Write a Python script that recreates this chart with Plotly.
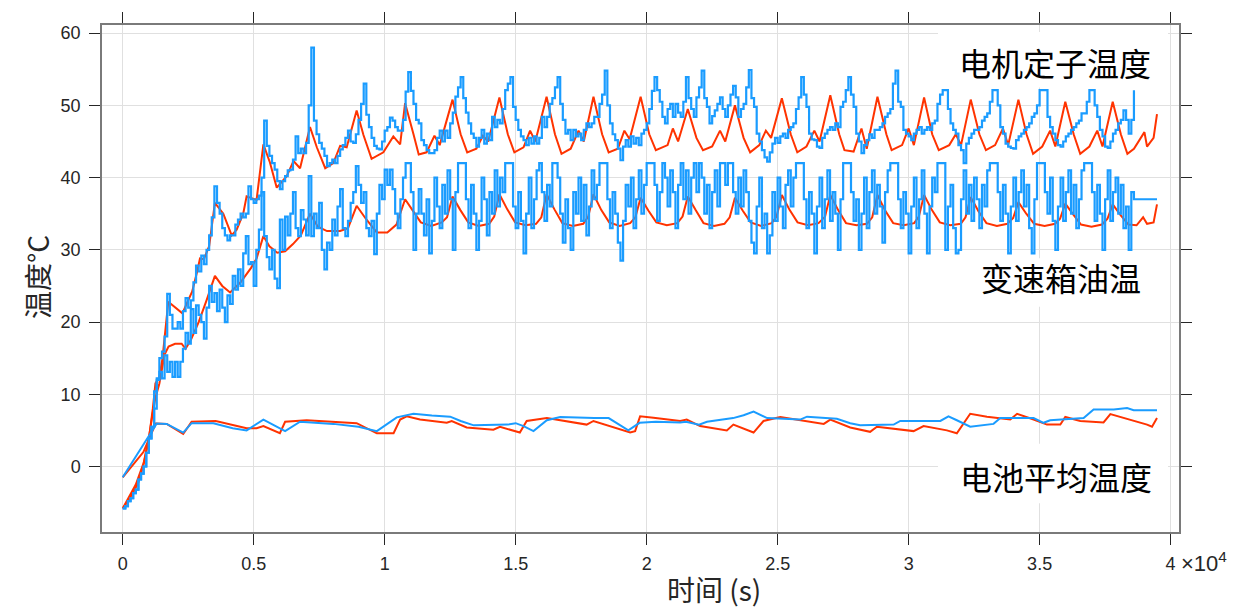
import numpy as np
import plotly.graph_objects as go

# ---------------- data (time in units of 1e4 s, temperature in degC) ----------------
# Battery average temperature
BAT_RED_T = [0.000, 0.079, 0.126, 0.168, 0.231, 0.263, 0.355, 0.473, 0.511, 0.537, 0.600, 0.620, 0.702,
             0.893, 0.970, 1.034, 1.059, 1.084, 1.135, 1.237, 1.256, 1.313, 1.415, 1.440, 1.516, 1.542,
             1.619, 1.771, 1.797, 1.937, 1.956, 1.975, 2.026, 2.128, 2.153, 2.204, 2.306, 2.331, 2.408,
             2.446, 2.510, 2.574, 2.676, 2.701, 2.777, 2.853, 2.879, 3.019, 3.057, 3.146, 3.184, 3.235,
             3.299, 3.388, 3.414, 3.477, 3.528, 3.579, 3.598, 3.655, 3.744, 3.770, 3.846, 3.910, 3.929, 3.948]
BAT_RED_V = [-1.5, 2.0, 5.95, 5.9, 4.5, 6.2, 6.3, 5.3, 5.3, 5.6, 4.6, 6.2, 6.4,
             6.0, 4.6, 4.6, 6.5, 6.95, 6.5, 6.05, 6.3, 5.4, 5.1, 5.5, 4.7, 6.3,
             6.7, 5.8, 6.3, 4.7, 4.9, 6.95, 6.75, 6.3, 6.5, 5.6, 5.0, 5.8, 4.7,
             6.3, 6.85, 6.5, 5.9, 6.5, 5.4, 4.8, 5.5, 4.9, 5.6, 5.0, 4.6, 7.3,
             6.9, 6.5, 7.3, 6.5, 5.8, 5.8, 6.85, 6.3, 6.1, 7.25, 6.5, 5.8, 5.5, 6.7]

BAT_BLUE_T = [0.000, 0.130, 0.168, 0.231, 0.263, 0.346, 0.420, 0.473, 0.537, 0.620, 0.677, 0.740, 0.804,
              0.900, 0.970, 1.046, 1.110, 1.180, 1.250, 1.290, 1.340, 1.470, 1.500, 1.530, 1.568, 1.619,
              1.670, 1.800, 1.855, 1.930, 1.973, 2.035, 2.128, 2.150, 2.200, 2.230, 2.330, 2.370, 2.408,
              2.460, 2.586, 2.612, 2.726, 2.777, 2.815, 2.943, 2.968, 3.121, 3.152, 3.184, 3.235, 3.324,
              3.350, 3.477, 3.515, 3.540, 3.668, 3.706, 3.783, 3.834, 3.859, 3.948]
BAT_BLUE_V = [-1.5, 5.95, 5.9, 4.7, 6.0, 6.0, 5.3, 5.0, 6.5, 4.9, 6.2, 6.1, 5.9,
              5.5, 4.9, 6.8, 7.3, 7.05, 6.9, 6.3, 5.7, 5.8, 6.0, 5.6, 4.9, 6.4,
              6.85, 6.7, 6.7, 5.0, 6.05, 6.2, 6.1, 6.2, 5.8, 6.2, 6.7, 7.1, 7.6,
              6.7, 6.5, 6.9, 6.6, 6.0, 5.7, 5.8, 6.3, 6.3, 6.95, 6.4, 5.5, 5.9,
              6.7, 6.7, 6.05, 6.4, 6.7, 7.9, 7.9, 8.1, 7.8, 7.8]

# Motor stator temperature (red, smooth)
STATOR_RED_T = [0.000, 0.020, 0.040, 0.060, 0.080, 0.100, 0.115, 0.125, 0.140, 0.152, 0.174, 0.200, 0.228,
                0.245, 0.265, 0.285, 0.295, 0.310, 0.330, 0.352, 0.384, 0.416, 0.435, 0.460, 0.473, 0.511,
                0.537, 0.562, 0.588, 0.626, 0.652, 0.677, 0.715, 0.741, 0.773, 0.804, 0.830, 0.855, 0.893,
                0.919, 0.950, 0.995, 1.033, 1.059, 1.078,
                1.110, 1.130, 1.160, 1.190, 1.210, 1.259, 1.290, 1.315, 1.350, 1.375, 1.395, 1.438,
                1.470, 1.495, 1.530, 1.555, 1.575, 1.618, 1.650, 1.675, 1.710, 1.740, 1.760, 1.797,
                1.830, 1.855, 1.890, 1.915, 1.935, 1.977, 2.010, 2.035, 2.080, 2.100, 2.120, 2.157,
                2.190, 2.215, 2.250, 2.280, 2.300, 2.337, 2.370, 2.395, 2.430, 2.455, 2.475, 2.516,
                2.550, 2.575, 2.610, 2.640, 2.660, 2.701, 2.735, 2.755, 2.790, 2.820, 2.840, 2.881,
                2.915, 2.935, 2.975, 3.000, 3.020, 3.059, 3.090, 3.115, 3.155, 3.180, 3.200, 3.237,
                3.270, 3.295, 3.330, 3.360, 3.380, 3.419, 3.450, 3.475, 3.510, 3.540, 3.560, 3.598,
                3.630, 3.655, 3.690, 3.720, 3.740, 3.779, 3.810, 3.835, 3.860, 3.900, 3.910, 3.935, 3.948]
STATOR_RED_V = [-5.8, -4.8, -3.6, -2.2, 0.3, 3.8, 8.0, 11.5, 12.4, 15.0, 22.8, 22.0, 21.2,
                22.6, 24.2, 27.1, 28.8, 28.7, 30.5, 36.5, 35.0, 32.0, 32.8, 35.0, 37.4, 36.9,
                44.6, 42.1, 38.6, 40.2, 42.3, 41.3, 47.0, 44.2, 41.3, 42.0, 44.4, 44.2, 49.3,
                45.9, 42.6, 43.5, 45.7, 44.6, 50.3,
                46.0, 43.2, 43.5, 45.8, 44.5, 50.8, 46.0, 43.5, 44.0, 45.8, 45.0, 51.1,
                46.0, 43.5, 44.2, 46.5, 45.0, 51.2, 46.0, 43.3, 44.0, 46.5, 45.0, 51.2,
                46.0, 43.5, 44.0, 46.5, 45.3, 51.2, 46.0, 43.8, 44.5, 46.8, 45.0, 49.5,
                45.5, 43.8, 44.3, 46.5, 45.0, 50.0, 45.5, 43.5, 44.5, 46.5, 45.5, 51.0,
                46.0, 43.5, 44.3, 46.5, 45.0, 51.4, 46.0, 43.8, 43.6, 46.8, 44.0, 51.2,
                46.0, 43.8, 44.5, 46.8, 44.5, 51.1, 46.0, 43.8, 44.5, 46.0, 44.5, 50.8,
                46.0, 43.8, 44.5, 46.8, 44.5, 50.8, 46.0, 43.3, 44.3, 46.5, 44.3, 50.5,
                46.0, 43.3, 44.3, 46.5, 44.3, 50.5, 46.0, 43.3, 44.0, 46.3, 44.3, 45.5, 48.8]

# Gearbox oil temperature (red, smooth)
GEAR_RED_T = [0.000, 0.050, 0.080, 0.100, 0.115, 0.125, 0.140, 0.160, 0.175, 0.200, 0.225, 0.240, 0.260,
              0.290, 0.320, 0.352, 0.380, 0.410, 0.450, 0.490, 0.511, 0.537, 0.560, 0.590, 0.620, 0.650,
              0.680, 0.715, 0.745, 0.780, 0.830, 0.860, 0.893, 0.930, 0.970, 1.010, 1.045, 1.078,
              1.108, 1.138, 1.178, 1.218, 1.238, 1.259, 1.289, 1.319, 1.359, 1.399, 1.418, 1.438,
              1.468, 1.498, 1.538, 1.578, 1.598, 1.618, 1.648, 1.678, 1.718, 1.758, 1.777, 1.797,
              1.827, 1.857, 1.897, 1.937, 1.957, 1.977, 2.007, 2.037, 2.077, 2.117, 2.137, 2.157,
              2.187, 2.217, 2.257, 2.297, 2.317, 2.337, 2.367, 2.397, 2.437, 2.477, 2.496, 2.516,
              2.546, 2.576, 2.616, 2.656, 2.681, 2.701, 2.731, 2.761, 2.801, 2.841, 2.861, 2.881,
              2.911, 2.941, 2.981, 3.021, 3.039, 3.059, 3.089, 3.119, 3.159, 3.199, 3.217, 3.237,
              3.267, 3.297, 3.337, 3.377, 3.399, 3.419, 3.449, 3.479, 3.519, 3.559, 3.578, 3.598,
              3.628, 3.658, 3.698, 3.738, 3.759, 3.779, 3.809, 3.839, 3.870, 3.895, 3.910, 3.935, 3.948]
GEAR_RED_V = [-5.8, -2.5, 0.5, 4.0, 7.5, 9.5, 11.5, 15.5, 16.6, 17.0, 17.0, 16.3, 17.5,
              20.0, 23.0, 26.4, 25.0, 24.1, 25.5, 27.5, 28.8, 31.9, 30.5, 29.6, 29.8, 30.8,
              32.0, 35.0, 33.2, 32.6, 32.6, 33.0, 36.1, 34.2, 32.4, 32.4, 33.5, 37.0,
              35.4, 33.8, 33.3, 33.8, 34.5, 37.4, 35.5, 33.8, 33.3, 33.6, 34.6, 37.7,
              35.6, 33.8, 33.4, 33.6, 34.5, 37.7, 35.6, 33.7, 33.3, 33.6, 34.6, 37.7,
              35.5, 33.8, 33.3, 33.7, 34.5, 37.2, 35.4, 33.8, 33.4, 33.7, 34.6, 37.4,
              35.5, 33.7, 33.3, 33.6, 34.5, 37.2, 35.4, 33.8, 33.3, 33.7, 34.6, 37.6,
              35.5, 33.8, 33.4, 33.7, 34.6, 37.6, 35.5, 33.7, 33.4, 33.6, 34.5, 37.6,
              35.4, 33.7, 33.4, 33.7, 34.6, 37.6, 35.5, 33.8, 33.4, 33.6, 34.5, 37.3,
              35.3, 33.7, 33.3, 33.6, 34.4, 36.6, 35.0, 33.6, 33.3, 33.6, 34.3, 36.4,
              34.9, 33.5, 33.2, 33.5, 34.3, 36.3, 34.8, 33.5, 33.4, 34.5, 33.6, 33.8, 36.3]

# Logged (blue) signals, one sample every 0.01 x 1e4 s = 100 s
SAMPLE_STEP = 0.01
STATOR_BLUE = [
    -5.8, -5.5, -4.8, -4.4, -3.7, -3.2, -1.8, -1.0, 0.0, 1.9,
    3.9, 5.5, 10.4, 12.2, 15.0, 15.9, 18.0, 23.9, 21.0, 19.1,
    19.1, 20.0, 19.1, 21.5, 23.3, 22.0, 23.0, 25.5, 27.8, 27.0,
    29.2, 28.0, 30.0, 32.0, 34.5, 38.8, 36.5, 35.0, 33.0, 32.0,
    31.3, 32.0, 32.0, 33.5, 34.2, 35.0, 34.5, 35.0, 38.8, 37.0,
    36.5, 37.0, 37.5, 40.0, 47.9, 44.4, 43.0, 42.0, 41.1, 39.5,
    38.4, 39.5, 40.2, 41.0, 41.1, 42.5, 45.7, 43.4, 44.0, 43.4,
    44.8, 50.0, 58.0, 47.9, 46.0, 44.8, 44.0, 43.0, 41.6, 42.0,
    42.5, 42.0, 43.0, 43.9, 44.5, 45.5, 46.5, 45.0, 44.8, 46.0,
    48.0, 50.2, 53.0, 48.7, 47.0, 45.5, 44.4, 44.0, 43.9, 45.0,
    46.5, 47.0, 48.3, 47.9, 47.0, 46.5, 46.5, 48.0, 51.9, 54.6,
    52.0, 50.2, 48.0, 47.5, 45.2, 44.5, 43.8, 43.4, 43.4, 43.8,
    45.5, 46.5, 45.0, 46.5, 45.5, 47.5, 49.0, 51.2, 52.5, 53.9,
    51.0, 49.0, 47.5, 46.1, 45.5, 44.3, 45.5, 46.6, 44.7, 46.1,
    45.2, 48.4, 47.0, 48.0, 47.5, 49.5, 52.1, 53.0, 53.9, 49.8,
    48.0, 46.6, 45.7, 45.2, 44.5, 45.5, 44.7, 45.7, 44.7, 45.5,
    48.4, 47.0, 48.4, 50.2, 51.0, 52.5, 53.9, 50.2, 48.0, 46.1,
    46.6, 45.2, 46.6, 45.7, 46.1, 45.2, 46.6, 47.5, 47.0, 47.5,
    48.4, 48.4, 50.2, 51.5, 54.8, 50.0, 47.5, 46.0, 45.2, 44.0,
    42.4, 44.3, 45.2, 44.3, 45.7, 44.7, 45.5, 44.5, 46.1, 46.6,
    47.5, 49.5, 52.0, 53.9, 52.1, 50.5, 48.4, 47.5, 49.5, 50.2,
    48.4, 50.2, 49.0, 48.4, 50.5, 53.9, 51.0, 49.5, 48.4, 51.1,
    52.5, 54.8, 51.0, 49.8, 47.5, 48.5, 49.3, 50.2, 51.1, 49.5,
    48.4, 50.0, 51.5, 52.7, 51.1, 48.4, 49.5, 50.2, 52.5, 54.9,
    51.0, 49.8, 46.1, 45.0, 43.8, 42.8, 42.2, 43.5, 44.7, 45.5,
    44.8, 45.7, 46.1, 45.5, 46.6, 47.0, 47.5, 49.5, 51.1, 53.9,
    51.5, 49.8, 46.1, 45.3, 45.2, 44.3, 44.1, 45.5, 46.1, 46.6,
    47.0, 46.6, 47.5, 47.0, 49.8, 50.5, 52.1, 53.9, 51.5, 49.8,
    46.1, 45.0, 43.4, 44.5, 45.2, 46.0, 45.5, 46.6, 46.6, 47.0,
    47.5, 48.4, 48.9, 49.5, 53.0, 54.8, 50.5, 49.8, 46.6, 46.1,
    45.7, 45.2, 46.1, 46.6, 47.0, 46.1, 46.6, 47.0, 46.6, 47.5,
    47.9, 50.2, 51.5, 52.1, 52.1, 49.5, 47.5, 46.6, 46.1, 44.5,
    43.8, 42.0, 44.7, 45.5, 46.1, 46.6, 46.6, 47.0, 47.9, 48.4,
    48.9, 50.5, 52.1, 52.1, 50.0, 47.0, 46.1, 44.7, 44.3, 44.1,
    44.0, 45.2, 45.7, 46.1, 46.6, 47.0, 47.5, 48.4, 48.9, 50.0,
    52.1, 52.1, 52.1, 48.4, 47.0, 46.1, 45.2, 44.5, 44.3, 45.0,
    45.7, 46.1, 46.6, 47.0, 47.5, 47.9, 48.9, 48.9, 50.5, 52.1,
    52.1, 50.0, 48.4, 46.6, 45.7, 44.3, 44.1, 45.0, 46.1, 46.6,
    47.5, 48.0, 49.3, 48.0, 46.1, 48.0, 52.1]

GEAR_BLUE = [
    -5.8, -5.5, -4.8, -4.4, -3.7, -3.2, -1.8, -1.0, 0.0, 1.9,
    3.9, 5.5, 8.0, 12.0, 13.1, 12.2, 15.4, 13.1, 14.5, 12.4,
    14.5, 12.4, 14.5, 16.3, 18.5, 17.0, 21.8, 18.5, 22.3, 21.0,
    20.0, 17.7, 22.0, 25.0, 22.8, 24.0, 21.5, 24.5, 22.0, 20.0,
    23.7, 22.5, 26.4, 24.5, 27.3, 25.0, 29.5, 31.9, 28.0, 28.3,
    25.0, 30.0, 32.8, 38.0, 31.9, 29.0, 27.3, 30.0, 26.0, 24.7,
    34.2, 30.0, 34.6, 32.0, 35.0, 38.0, 33.0, 31.9, 35.5, 34.2,
    32.0, 40.2, 31.9, 35.0, 33.0, 36.5, 30.0, 27.3, 31.0, 30.0,
    34.2, 32.0, 36.0, 38.4, 33.0, 31.9, 34.0, 36.5, 38.0, 41.6,
    39.0, 36.5, 38.0, 33.0, 31.9, 34.0, 29.4, 35.0, 39.0, 37.0,
    41.1, 39.0, 41.1, 38.4, 35.0, 33.0, 37.0, 40.0, 42.0, 42.0,
    38.0, 30.0, 35.0, 38.4, 35, 32, 37, 29.5, 34, 40,
    36, 33, 39, 35, 41, 37, 30, 38, 42, 42,
    42, 37, 33, 39, 35, 30, 34, 40, 37, 32,
    38, 35, 41, 36, 40, 38, 42, 42, 42, 36,
    33, 38, 34, 29.5, 35, 40, 33, 37, 41, 42,
    38, 34, 39, 36, 42, 42, 40, 35, 31, 37,
    33, 30, 38, 35, 40, 34, 39, 32, 36, 41,
    37, 39, 42, 42, 42, 37, 33, 38, 35, 31,
    28.5, 34, 39, 36, 40, 33, 37, 41, 35, 39,
    42, 42, 42, 39, 34, 38, 42, 40, 36, 41,
    38, 33, 39, 42, 37, 41, 35, 40, 42, 38,
    42, 40, 35, 39, 33, 38, 41, 36, 42, 42,
    39, 42, 42, 38, 35, 40, 36, 41, 38, 34,
    31, 29.5, 36, 40, 33, 35, 29.5, 32, 38, 34,
    40, 36, 33, 39, 41, 36, 40, 42, 42, 42,
    37, 33, 38, 35, 29.5, 36, 40, 33, 37, 41,
    34, 38, 35, 30, 37, 42, 42, 42, 38, 34,
    37, 30, 35, 40, 33, 38, 41, 35, 39, 36,
    31, 38, 41, 42, 42, 42, 37, 33, 38, 35,
    29.5, 36, 40, 33, 37, 41, 35, 29.5, 36, 40,
    38, 42, 42, 42, 30, 36, 39, 33, 29.5, 30,
    37, 41, 35, 39, 34, 40, 37, 33, 39, 36,
    41, 42, 42, 42, 38, 34, 39, 35, 29.5, 36,
    40, 34, 38, 41, 36, 39, 33, 29.5, 37, 42,
    42, 42, 38, 35, 40, 34, 30, 36, 40, 34,
    38, 41, 35, 39, 33, 37, 41, 42, 42, 42,
    38, 34, 39, 35, 30, 37, 41, 34, 38, 40,
    35, 39, 33, 36, 30, 38, 37]
GEAR_BLUE_HOLD_END = 3.948   # last logged value held until this time

X_TICKS = [0, 0.5, 1, 1.5, 2, 2.5, 3, 3.5, 4]
Y_TICKS = [0, 10, 20, 30, 40, 50, 60]
LABELS = ["电机定子温度", "变速箱油温", "电池平均温度"]

# ---------------- styling ----------------
RED = "#ff3300"
BLUE = "#1a9cff"
W, H = 1243, 610
ML, MR, MT, MB = 102, 64, 21, 78
PW, PH = W - ML - MR, H - MT - MB


def px(x):
    return (x - ML) / PW


def py(y):
    return (H - MB - y) / PH


sb_t = [i * SAMPLE_STEP for i in range(len(STATOR_BLUE))]
gb_t = [i * SAMPLE_STEP for i in range(len(GEAR_BLUE))] + [GEAR_BLUE_HOLD_END]
gb_v = GEAR_BLUE + [GEAR_BLUE[-1]]

fig = go.Figure()
fig.add_trace(go.Scatter(x=STATOR_RED_T, y=STATOR_RED_V, mode="lines",
                         line=dict(color=RED, width=2), showlegend=False))
fig.add_trace(go.Scatter(x=GEAR_RED_T, y=GEAR_RED_V, mode="lines",
                         line=dict(color=RED, width=2), showlegend=False))
fig.add_trace(go.Scatter(x=BAT_RED_T, y=BAT_RED_V, mode="lines",
                         line=dict(color=RED, width=2), showlegend=False))
fig.add_trace(go.Scatter(x=sb_t, y=STATOR_BLUE, mode="lines",
                         line=dict(color=BLUE, width=2.2, shape="hv"), showlegend=False))
fig.add_trace(go.Scatter(x=gb_t, y=gb_v, mode="lines",
                         line=dict(color=BLUE, width=2.2, shape="hv"), showlegend=False))
fig.add_trace(go.Scatter(x=BAT_BLUE_T, y=BAT_BLUE_V, mode="lines",
                         line=dict(color=BLUE, width=2), showlegend=False))

axis_common = dict(
    showgrid=True, gridcolor="#e0e0e0", gridwidth=1, zeroline=False,
    showline=True, linecolor="#7a7a7a", linewidth=1.5, mirror="ticks",
    ticks="outside", ticklen=11, tickwidth=1, tickcolor="#262626",
    tickfont=dict(family="Liberation Sans, Arial, sans-serif", size=18, color="#262626"),
)
fig.update_xaxes(range=[-0.079, 4.032], tickvals=X_TICKS, ticklabelstandoff=4,
                 ticktext=[("%g" % v) for v in X_TICKS], **axis_common)
fig.update_yaxes(range=[-9.07, 61.13], tickvals=Y_TICKS, ticklabelstandoff=5, **axis_common)

# white label boxes above the data
boxes = [(938, 28, 1168, 84), (938, 256, 1168, 305), (938, 443, 1168, 503)]
shapes = []
for x0, y0, x1, y1 in boxes:
    shapes.append(dict(type="rect", xref="paper", yref="paper", layer="above",
                       x0=px(x0), x1=px(x1), y0=py(y1), y1=py(y0),
                       fillcolor="white", line=dict(width=0)))

cjk = "Noto Sans CJK SC, sans-serif"
label_pos = [(1055, 58), (1061, 275), (1056, 476)]
annotations = []
for text, (cx, cy) in zip(LABELS, label_pos):
    annotations.append(dict(text=text, xref="paper", yref="paper", x=px(cx), y=py(cy),
                            xanchor="center", yanchor="middle", showarrow=False,
                            font=dict(family=cjk, size=32, color="black")))
annotations.append(dict(text="时间 (s)", xref="paper", yref="paper", x=px(714), y=py(589),
                        xanchor="center", yanchor="middle", showarrow=False,
                        font=dict(family=cjk, size=28, color="#262626")))
annotations.append(dict(text="温度°C", xref="paper", yref="paper", x=px(37), y=py(275),
                        xanchor="center", yanchor="middle", showarrow=False, textangle=-90,
                        font=dict(family=cjk, size=28, color="#262626")))
annotations.append(dict(text="×10<sup>4</sup>", xref="paper", yref="paper", x=px(1179), y=py(562),
                        xanchor="left", yanchor="middle", showarrow=False,
                        font=dict(family="Liberation Sans, Arial, sans-serif", size=22, color="#262626")))

fig.update_layout(
    width=W, height=H, autosize=False,
    margin=dict(l=ML, r=MR, t=MT, b=MB),
    paper_bgcolor="white", plot_bgcolor="white",
    shapes=shapes, annotations=annotations,
)

fig.write_html("out.html")
